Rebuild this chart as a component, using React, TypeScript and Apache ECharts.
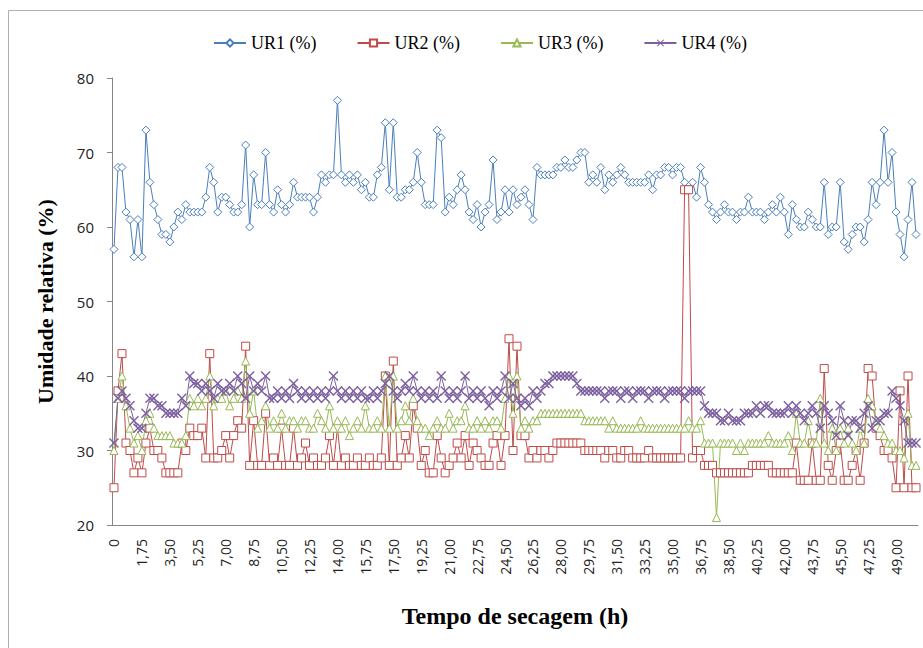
import React, { useEffect, useRef } from "react";
import * as echarts from "echarts";

// Time axis: 0 h to 50.25 h in 0.25 h steps (202 readings)
const hours: string[] = Array.from({ length: 202 }, (_, i) =>
  i === 0 ? "0" : (i * 0.25).toFixed(2).replace(".", ",")
);

const seriesNames = ["UR1 (%)", "UR2 (%)", "UR3 (%)", "UR4 (%)"];

const ur1: number[] = [
  57, 68, 68, 62, 61, 56, 61, 56, 73, 66,
  63, 61, 59, 59, 58, 60, 62, 61, 63, 62,
  62, 62, 62, 64, 68, 66, 62, 64, 64, 63,
  62, 62, 63, 71, 60, 67, 63, 63, 70, 63,
  62, 65, 63, 62, 63, 66, 64, 64, 64, 64,
  62, 64, 67, 66, 67, 67, 77, 67, 66, 67,
  66, 67, 65, 66, 64, 64, 67, 68, 74, 65,
  74, 64, 64, 65, 65, 66, 70, 66, 63, 63,
  63, 73, 72, 62, 64, 63, 65, 67, 65, 62,
  61, 63, 60, 62, 63, 69, 61, 62, 65, 62,
  65, 63, 64, 65, 63, 61, 68, 67, 67, 67,
  67, 68, 68, 69, 68, 68, 69, 70, 70, 66,
  67, 66, 68, 65, 67, 66, 67, 68, 67, 66,
  66, 66, 66, 66, 67, 65, 67, 67, 68, 68,
  67, 68, 68, 66, 65, 66, 64, 68, 66, 63,
  62, 61, 62, 63, 62, 62, 61, 62, 62, 64,
  62, 62, 62, 61, 62, 63, 62, 64, 62, 59,
  63, 61, 60, 60, 62, 61, 60, 60, 66, 59,
  60, 60, 66, 58, 57, 59, 60, 60, 58, 61,
  66, 63, 66, 73, 66, 70, 62, 59, 56, 61,
  66, 59,
];

const ur2: number[] = [
  25, 38, 43, 31, 30, 27, 29, 27, 31, 33,
  30, 30, 29, 27, 27, 27, 27, 31, 30, 33,
  32, 32, 33, 29, 43, 29, 29, 30, 32, 29,
  32, 34, 33, 44, 28, 34, 28, 28, 35, 28,
  29, 28, 33, 28, 28, 33, 28, 29, 31, 28,
  29, 28, 28, 29, 32, 28, 33, 28, 29, 28,
  28, 29, 28, 28, 29, 28, 28, 29, 40, 28,
  42, 28, 29, 32, 29, 36, 33, 28, 30, 27,
  27, 32, 29, 27, 28, 29, 31, 29, 32, 28,
  31, 30, 29, 28, 28, 31, 32, 28, 32, 45,
  30, 44, 32, 32, 29, 30, 29, 30, 30, 29,
  30, 31, 31, 31, 31, 31, 31, 31, 30, 30,
  30, 30, 30, 29, 30, 30, 29, 29, 30, 30,
  29, 29, 29, 29, 30, 29, 29, 29, 29, 29,
  29, 29, 29, 65, 65, 29, 30, 30, 28, 28,
  28, 27, 27, 27, 27, 27, 27, 27, 27, 27,
  28, 28, 28, 28, 28, 27, 27, 27, 27, 27,
  27, 31, 26, 26, 26, 31, 26, 26, 41, 28,
  26, 30, 31, 26, 26, 28, 30, 26, 31, 41,
  40, 33, 32, 30, 30, 29, 25, 38, 25, 40,
  25, 25,
];

const ur3: number[] = [
  30, 37, 40, 36, 33, 31, 32, 30, 34, 35,
  33, 32, 32, 32, 32, 31, 31, 31, 32, 37,
  36, 37, 36, 37, 40, 36, 37, 37, 38, 36,
  37, 38, 37, 42, 35, 38, 33, 34, 36, 33,
  34, 33, 35, 33, 34, 34, 33, 34, 34, 33,
  33, 35, 34, 33, 36, 33, 34, 33, 34, 32,
  33, 34, 33, 36, 33, 33, 34, 33, 40, 33,
  40, 33, 34, 36, 34, 37, 34, 33, 33, 32,
  33, 34, 33, 33, 35, 33, 34, 34, 36, 33,
  33, 34, 33, 34, 33, 34, 34, 33, 37, 40,
  35, 40, 33, 34, 33, 34, 34, 35, 35, 35,
  35, 35, 35, 35, 35, 35, 35, 35, 34, 34,
  34, 34, 34, 34, 33, 34, 33, 33, 33, 33,
  33, 33, 34, 33, 33, 33, 33, 33, 33, 33,
  33, 33, 33, 33, 34, 33, 33, 34, 31, 31,
  31, 21, 31, 31, 31, 31, 30, 31, 30, 31,
  31, 31, 31, 31, 32, 31, 31, 31, 31, 32,
  30, 35, 31, 31, 34, 31, 31, 37, 31, 30,
  33, 30, 33, 31, 33, 31, 30, 33, 31, 37,
  36, 34, 33, 32, 31, 31, 30, 30, 29, 35,
  28, 28,
];

const ur4: number[] = [
  31, 37, 38, 37, 36, 34, 33, 33, 35, 37,
  37, 36, 36, 35, 35, 35, 35, 37, 36, 40,
  39, 39, 38, 39, 38, 37, 39, 38, 38, 39,
  38, 40, 39, 37, 40, 38, 39, 38, 40, 37,
  37, 38, 37, 38, 37, 39, 38, 37, 38, 37,
  38, 37, 38, 37, 38, 40, 38, 37, 38, 37,
  38, 37, 38, 37, 37, 38, 37, 38, 39, 40,
  38, 37, 38, 39, 38, 40, 38, 37, 38, 37,
  38, 37, 40, 38, 37, 38, 37, 38, 40, 37,
  38, 37, 38, 37, 36, 38, 37, 38, 40, 37,
  39, 37, 36, 37, 36, 38, 37, 38, 39, 39,
  40, 40, 40, 40, 40, 40, 39, 38, 38, 38,
  38, 38, 38, 37, 38, 38, 38, 37, 38, 38,
  37, 38, 38, 38, 37, 38, 38, 38, 37, 38,
  38, 38, 38, 37, 38, 38, 38, 38, 36, 35,
  35, 35, 34, 34, 35, 34, 34, 34, 35, 35,
  35, 36, 35, 36, 36, 35, 35, 35, 35, 36,
  35, 36, 35, 34, 35, 36, 35, 33, 36, 35,
  34, 32, 36, 34, 32, 34, 34, 33, 35, 36,
  33, 34, 34, 35, 35, 38, 37, 36, 34, 31,
  31, 31,
];

const yTicks = { min: 20, max: 80, interval: 10 };

const colors = ["#4A7EBB", "#BE4B48", "#98B954", "#7D60A0"];
const symbols = [
  "diamond",
  "rect",
  "triangle",
  "path://M0,1L1,0L5,4L9,0L10,1L6,5L10,9L9,10L5,6L1,10L0,9L4,5Z",
];

export default function App() {
  const ref = useRef<HTMLDivElement>(null);
  useEffect(() => {
    if (!ref.current) return;
    const chart = echarts.init(ref.current, null, { renderer: "svg" });
    const data = [ur1, ur2, ur3, ur4];
    chart.setOption({
      animation: false,
      backgroundColor: "#ffffff",
      graphic: [
        {
          type: "rect",
          shape: { x: 8.5, y: 10.5, width: 940, height: 680 },
          style: { fill: "none", stroke: "#b0b0b0", lineWidth: 1 },
          silent: true,
          z: -1,
        },
      ],
      legend: {
        top: 29,
        left: 208,
        itemGap: 40,
        itemWidth: 32,
        itemHeight: 9,
        textStyle: {
          fontFamily: "Liberation Serif",
          fontSize: 18,
          color: "#000",
        },
        data: seriesNames,
      },
      grid: { left: 112, right: 5, top: 78, bottom: 123, containLabel: false },
      xAxis: {
        type: "category",
        data: hours,
        boundaryGap: true,
        name: "Tempo de secagem (h)",
        nameLocation: "middle",
        nameGap: 79,
        nameTextStyle: {
          fontFamily: "Liberation Serif",
          fontWeight: "bold",
          fontSize: 24,
          color: "#000",
        },
        axisLine: { lineStyle: { color: "#868686", width: 1 } },
        axisTick: {
          interval: 0,
          length: 5,
          lineStyle: { color: "#868686" },
        },
        axisLabel: {
          interval: 6,
          rotate: 90,
          margin: 14,
          fontFamily: "Open Sans",
          fontSize: 14,
          color: "#222",
        },
        splitLine: { show: false },
      },
      yAxis: {
        type: "value",
        min: yTicks.min,
        max: yTicks.max,
        interval: yTicks.interval,
        name: "Umidade relativa (%)",
        nameLocation: "middle",
        nameGap: 56,
        nameTextStyle: {
          fontFamily: "Liberation Serif",
          fontWeight: "bold",
          fontSize: 22,
          color: "#000",
        },
        axisLine: { show: true, lineStyle: { color: "#868686", width: 1 } },
        axisTick: { show: true, length: 5, lineStyle: { color: "#868686" } },
        axisLabel: {
          margin: 18,
          fontFamily: "Open Sans",
          fontSize: 15,
          color: "#222",
        },
        splitLine: { show: false },
      },
      series: seriesNames.map((name, k) => ({
        name,
        type: "line",
        data: data[k],
        symbol: symbols[k],
        symbolSize: k === 3 ? 10 : 8,
        showAllSymbol: true,
        lineStyle: { color: colors[k], width: 1 },
        itemStyle:
          k === 3
            ? { color: colors[k], borderWidth: 0 }
            : { color: "#ffffff", borderColor: colors[k], borderWidth: 1 },
        emphasis: { disabled: true },
      })),
    });
    return () => chart.dispose();
  }, []);
  return (
    <div
      ref={ref}
      style={{ position: "absolute", left: 0, top: 0, width: 923, height: 648 }}
    />
  );
}
